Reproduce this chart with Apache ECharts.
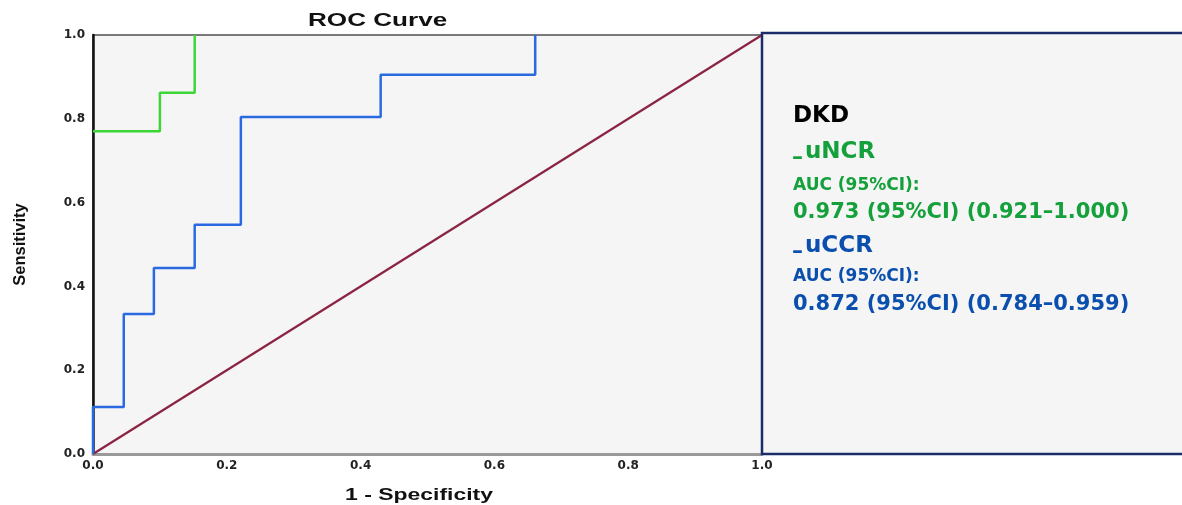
<!DOCTYPE html>
<html>
<head>
<meta charset="utf-8">
<script src="https://cdn.jsdelivr.net/npm/echarts@6/dist/echarts.min.js"></script>
<style>html,body{margin:0;padding:0;background:#fff;}#c{width:1182px;height:505px;}</style>
</head>
<body>
<div id="c"></div>
<script>
// Data
var tickValues = [0, 0.2, 0.4, 0.6, 0.8, 1.0];
var uNCR_fpr = [0, 0.1, 0.1, 0.152, 0.152];
var uNCR_tpr = [0.77, 0.77, 0.862, 0.862, 1.0];
var uCCR_fpr = [0, 0, 0.046, 0.046, 0.091, 0.091, 0.152, 0.152, 0.221, 0.221, 0.43, 0.43, 0.661, 0.661];
var uCCR_tpr = [0, 0.112, 0.112, 0.334, 0.334, 0.444, 0.444, 0.547, 0.547, 0.804, 0.804, 0.905, 0.905, 1.0];
var refX = [0, 1];
var refY = [0, 1];
var legendTitle = 'DKD';
var legendLines = [
  {name: 'uNCR', auc: 'AUC (95%CI):', value: '0.973 (95%CI) (0.921\u20131.000)'},
  {name: 'uCCR', auc: 'AUC (95%CI):', value: '0.872 (95%CI) (0.784\u20130.959)'}
];

function pairs(xs, ys) { return xs.map(function (x, i) { return [x, ys[i]]; }); }

var green = '#3cd636', blue = '#2a6ae0', maroon = '#8a2442';
var legGreen = '#14a03a', legBlue = '#0b4fae';
var legFont = 'DejaVu Sans';

var chart = echarts.init(document.getElementById('c'));
chart.setOption({
  animation: false,
  backgroundColor: '#ffffff',
  grid: {left: 93, right: 420, top: 35, bottom: 51, show: true, backgroundColor: '#f5f5f5', borderColor: '#7a7a7a', borderWidth: 2},
  xAxis: {
    type: 'value', min: 0, max: 1, interval: 0.2,
    axisLine: {show: true, lineStyle: {color: '#9a9a9a', width: 3}},
    axisTick: {show: false}, splitLine: {show: false},
    axisLabel: {margin: 6, color: '#222', fontFamily: 'DejaVu Sans', fontWeight: 'bold', fontSize: 12,
      formatter: function (v) { return v.toFixed(1); }}
  },
  yAxis: {
    type: 'value', min: 0, max: 1, interval: 0.2,
    name: 'Sensitivity', nameLocation: 'middle', nameGap: 64, nameRotate: 90,
    nameTextStyle: {color: '#111', fontFamily: 'Liberation Sans', fontWeight: 'bold', fontSize: 16.5},
    axisLine: {show: true, lineStyle: {color: '#111', width: 2.5}},
    axisTick: {show: false}, splitLine: {show: false},
    axisLabel: {margin: 8, color: '#222', fontFamily: 'DejaVu Sans', fontWeight: 'bold', fontSize: 12,
      formatter: function (v) { return v.toFixed(1); }}
  },
  series: [
    {type: 'line', name: 'ref', data: pairs(refX, refY), showSymbol: false, symbol: 'none',
      lineStyle: {color: maroon, width: 2.2}, z: 2},
    {type: 'line', name: 'uCCR', data: pairs(uCCR_fpr, uCCR_tpr), showSymbol: false, symbol: 'none',
      lineStyle: {color: blue, width: 2.5}, z: 3},
    {type: 'line', name: 'uNCR', data: pairs(uNCR_fpr, uNCR_tpr), showSymbol: false, symbol: 'none',
      lineStyle: {color: green, width: 2.5}, z: 4}
  ],
  graphic: [
    {type: 'text', left: 308, top: 12, z: 10, scaleX: 1.45,
      style: {text: 'ROC Curve', fill: '#111', font: 'bold 18px "Liberation Sans"'}},
    {type: 'text', left: 345, top: 487, z: 10, scaleX: 1.35,
      style: {text: '1 - Specificity', fill: '#111', font: 'bold 17px "Liberation Sans"'}},
    {type: 'rect', z: 20, shape: {x: 762, y: 33, width: 450, height: 421},
      style: {fill: '#f5f5f5', stroke: '#1b2c6a', lineWidth: 2.5}},
    {type: 'text', z: 21, x: 793, y: 116,
      style: {text: legendTitle, fill: '#000', font: 'bold 23px "' + legFont + '"', verticalAlign: 'middle'}},
    {type: 'text', z: 21, x: 792, y: 158,
      style: {text: '\u2013', fill: legGreen, font: 'bold 22px "' + legFont + '"', verticalAlign: 'middle'}},
    {type: 'text', z: 21, x: 805, y: 152,
      style: {text: legendLines[0].name, fill: legGreen, font: 'bold 23px "' + legFont + '"', verticalAlign: 'middle'}},
    {type: 'text', z: 21, x: 793, y: 186,
      style: {text: legendLines[0].auc, fill: legGreen, font: 'bold 17px "' + legFont + '"', verticalAlign: 'middle'}},
    {type: 'text', z: 21, x: 793, y: 213,
      style: {text: legendLines[0].value, fill: legGreen, font: 'bold 21px "' + legFont + '"', verticalAlign: 'middle'}},
    {type: 'text', z: 21, x: 792, y: 252,
      style: {text: '\u2013', fill: legBlue, font: 'bold 22px "' + legFont + '"', verticalAlign: 'middle'}},
    {type: 'text', z: 21, x: 805, y: 246,
      style: {text: legendLines[1].name, fill: legBlue, font: 'bold 23px "' + legFont + '"', verticalAlign: 'middle'}},
    {type: 'text', z: 21, x: 793, y: 277,
      style: {text: legendLines[1].auc, fill: legBlue, font: 'bold 17px "' + legFont + '"', verticalAlign: 'middle'}},
    {type: 'text', z: 21, x: 793, y: 305,
      style: {text: legendLines[1].value, fill: legBlue, font: 'bold 21px "' + legFont + '"', verticalAlign: 'middle'}}
  ]
});
</script>
</body>
</html>
